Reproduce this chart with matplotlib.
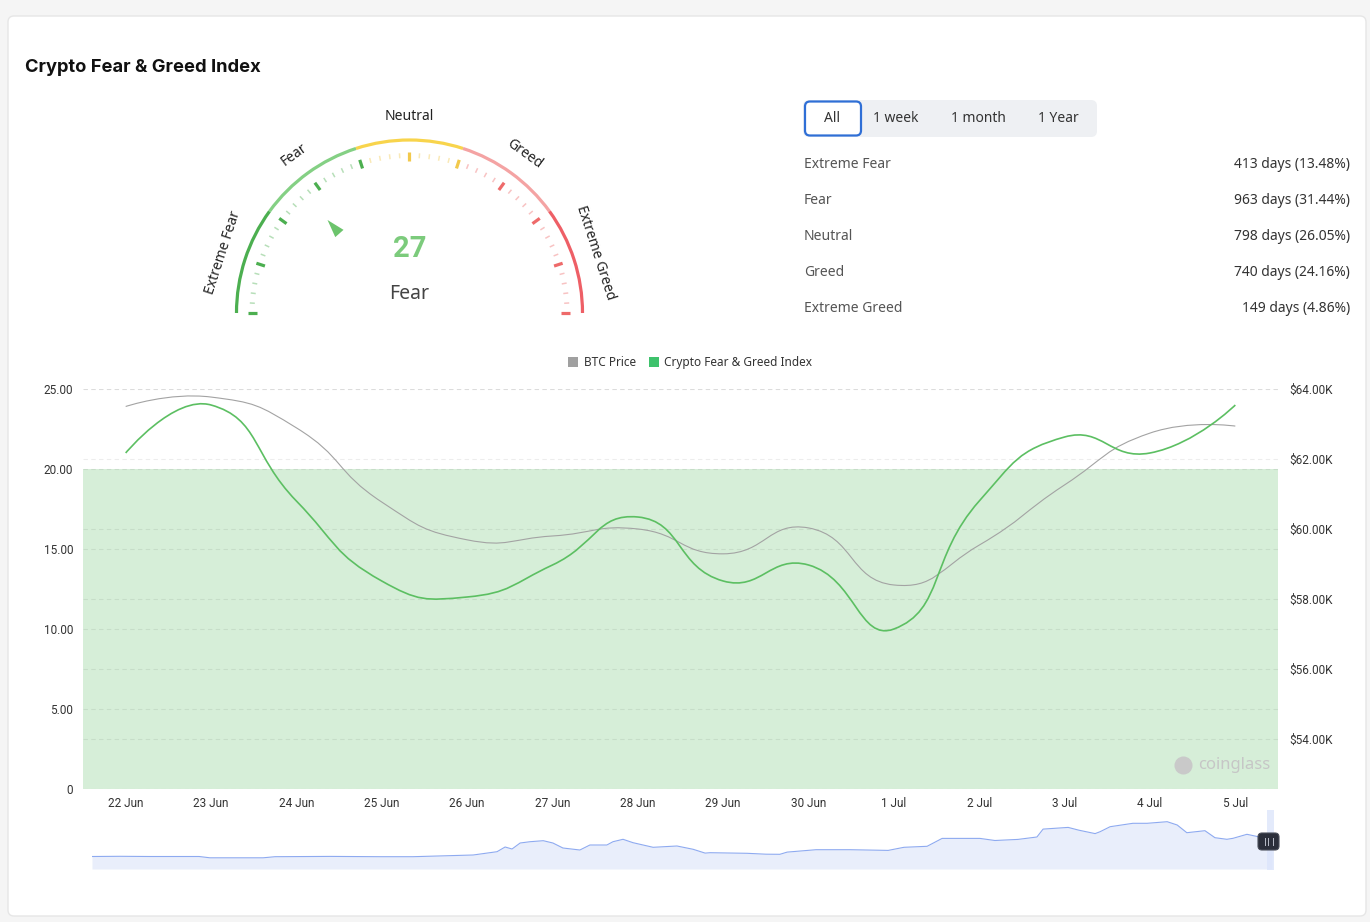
import numpy as np
import matplotlib
matplotlib.use('Agg')
import matplotlib.pyplot as plt
from matplotlib.path import Path
from matplotlib.patches import PathPatch, FancyBboxPatch, Rectangle, Polygon, Arc

W, H = 1370, 922

# ---- data ----
days = ['22 Jun', '23 Jun', '24 Jun', '25 Jun', '26 Jun', '27 Jun', '28 Jun',
        '29 Jun', '30 Jun', '1 Jul', '2 Jul', '3 Jul', '4 Jul', '5 Jul']
fgi = [21, 24, 18, 13, 12, 14, 17, 13, 14, 10, 18, 22, 21, 24]
btc = [63500, 63770, 62890, 60770, 59690, 59800, 60000, 59290, 60030, 58400,
       59540, 61260, 62740, 62940]
fear_band = (0, 20)

left_ticks = [0, 5, 10, 15, 20, 25]
right_ticks = [54000, 56000, 58000, 60000, 62000, 64000]

gauge_value = 27
gauge_state = 'Fear'
zone_names = ['Extreme Fear', 'Fear', 'Neutral', 'Greed', 'Extreme Greed']
zone_bounds = [0, 20, 40, 60, 80, 100]
zone_days = [413, 963, 798, 740, 149]
zone_pct = [13.48, 31.44, 26.05, 24.16, 4.86]
ranges = ['All', '1 week', '1 month', '1 Year']

# overview strip under the chart (whole history, 3063 days)
overview_day = [0, 73, 151, 278, 306, 444, 475, 618, 747, 833, 989, 1051, 1072,
                1090, 1111, 1137, 1171, 1196, 1222, 1266, 1292, 1336, 1352, 1378,
                1404, 1456, 1518, 1560, 1591, 1604, 1700, 1749, 1785, 1804, 1879,
                1967, 2066, 2107, 2167, 2206, 2245, 2304, 2343, 2403, 2452, 2468,
                2533, 2561, 2603, 2616, 2642, 2701, 2738, 2790, 2816, 2841, 2888,
                2914, 2945, 2961, 2997, 3026, 3062]
overview_val = [12.5, 12.7, 12.5, 12.5, 11.2, 11.2, 12.3, 12.6, 12.3, 12.3, 14.0,
                17.3, 22.0, 20.0, 26.0, 27.3, 28.3, 26.0, 21.0, 19.0, 24.0, 24.0,
                27.3, 29.7, 26.3, 21.7, 23.0, 19.7, 15.9, 16.3, 15.7, 14.8, 14.7,
                16.9, 19.3, 19.3, 18.6, 21.7, 22.7, 30.6, 30.6, 30.6, 28.5, 29.6,
                32.0, 39.9, 41.6, 38.8, 35.4, 37.3, 42.3, 45.7, 45.7, 47.3, 44.0,
                36.3, 38.3, 31.3, 29.7, 30.7, 34.7, 32.3, 33.0]

# ---- colours ----
zone_arc = ['#4caf50', '#84d084', '#f8d44c', '#f4a3a3', '#ee5f66']
zone_tick = ['#4caf50', '#4caf50', '#f2c94c', '#ee6a6a', '#ee6a6a']
GREEN_LINE = '#5cbf62'
GRAY_LINE = '#a3a3a3'
BAND = '#d6eed8'

UI = 'Noto Sans'
AXF = 'Roboto'


def box(x0, y0, x1, y1):
    return [x0 / W, 1 - y1 / H, (x1 - x0) / W, (y1 - y0) / H]


def smooth_path(xs, ys, sx, sy, smooth=0.5):
    # bezier smoothing like echarts' smooth line, done in pixel space
    P = np.column_stack([np.asarray(xs, float) * sx, np.asarray(ys, float) * sy])
    verts = [P[0]]
    codes = [Path.MOVETO]
    cp0 = P[0]
    n = len(P)
    for i in range(1, n):
        prev, cur = P[i - 1], P[i]
        if i + 1 < n:
            nxt = P[i + 1]
            v = nxt - prev
            l0 = np.hypot(*(cur - prev))
            l1 = np.hypot(*(nxt - cur))
            r = l1 / (l0 + l1)
            ncp = cur - v * smooth * (1 - r)
        else:
            v = np.zeros(2)
            r = 0.5
            ncp = cur
        verts += [cp0, ncp, cur]
        codes += [Path.CURVE4] * 3
        cp0 = cur + v * smooth * r
    verts = np.array(verts) / [sx, sy]
    return Path(verts, codes)


fig = plt.figure(figsize=(W / 100, H / 100), dpi=100, facecolor='#f5f5f5')

# background / card
bg = fig.add_axes([0, 0, 1, 1])
bg.set_xlim(0, W)
bg.set_ylim(H, 0)
bg.axis('off')
bg.set_zorder(0)
bg.add_patch(FancyBboxPatch((8, 16), 1358, 900, boxstyle='round,pad=0,rounding_size=6',
                            fc='white', ec='#e6e6e6', lw=1))
bg.text(25, 67, 'Crypto Fear & Greed Index', fontsize=13.2, fontweight='bold',
        family='Inter', color='#111', va='center', ha='left')

# range buttons
bg.add_patch(FancyBboxPatch((803, 100), 294, 37, boxstyle='round,pad=0,rounding_size=6',
                            fc='#eef0f3', ec='none'))
bg.add_patch(FancyBboxPatch((805, 101.5), 56, 34, boxstyle='round,pad=0,rounding_size=5',
                            fc='white', ec='#2f6fd6', lw=1.6))
for lbl, bx in zip(ranges, [832, 896, 978, 1058]):
    bg.text(bx, 119, lbl, fontsize=10, family=UI, color='#333', ha='center', va='center')

# stats
for i, name in enumerate(zone_names):
    yy = 164.5 + 36 * i
    bg.text(804, yy, name, fontsize=10, family=UI, color='#555', ha='left', va='center')
    bg.text(1350, yy, f'{zone_days[i]} days ({zone_pct[i]:.2f}%)', fontsize=10,
            family=UI, color='#333', ha='right', va='center')

# legend
bg.add_patch(Rectangle((568, 357), 10, 10, fc='#a0a0a0', ec='none'))
bg.text(584, 362, 'BTC Price', fontsize=8.5, family=UI, color='#333', va='center')
bg.add_patch(Rectangle((649, 357), 10, 10, fc='#3ec26c', ec='none'))
bg.text(664, 362, 'Crypto Fear & Greed Index', fontsize=8.5, family=UI, color='#333',
        va='center')

# ---- gauge ----
gax = fig.add_axes(box(189.5, 93, 629.5, 333))
gax.set_xlim(-220, 220)
gax.set_ylim(-20, 220)
gax.axis('off')
R = 173


def ang(v):
    return 180 - v * 1.8


for k in range(5):
    gax.add_patch(Arc((0, 0), 2 * R, 2 * R, theta1=ang(zone_bounds[k + 1]),
                      theta2=ang(zone_bounds[k]), color=zone_arc[k], lw=2.3))
    a = np.radians(ang((zone_bounds[k] + zone_bounds[k + 1]) / 2))
    gax.text(196 * np.cos(a), 196 * np.sin(a), zone_names[k], fontsize=10, family=UI,
             color='#222', ha='center', va='center', rotation=np.degrees(a) - 90,
             rotation_mode='anchor')

for v in range(0, 101, 2):
    major = v % 10 == 0
    z = min(max(int(np.ceil(v / 20)) - 1, 0), 4)
    a = np.radians(ang(v))
    r0, r1 = (152, 161) if major else (155, 160)
    gax.plot([r0 * np.cos(a), r1 * np.cos(a)], [r0 * np.sin(a), r1 * np.sin(a)],
             color=zone_tick[z], lw=2.3 if major else 1.1,
             alpha=1 if major else 0.4, solid_capstyle='butt')

a = np.radians(ang(gauge_value))
u = np.array([np.cos(a), np.sin(a)])
pn = np.array([-u[1], u[0]])
tri = [u * 124, u * 106 + pn * 5.5, u * 106 - pn * 5.5]
gax.add_patch(Polygon(tri, closed=True, fc='#6cc46c', ec='none'))
gax.text(0, 64, str(gauge_value), fontsize=21, fontweight='bold', family='Roboto',
         color='#7ccb7c', ha='center', va='center')
gax.text(0, 19, gauge_state, fontsize=14, family=UI, color='#444', ha='center',
         va='center')

# ---- main chart ----
x = np.arange(len(days))
ax = fig.add_axes(box(83, 389, 1278, 789))
ax.set_zorder(2)
ax.set_facecolor('none')
ax.set_xlim(-0.5, len(days) - 0.5)
ax.set_ylim(0, 25)
ax.axhspan(fear_band[0], fear_band[1], color=BAND, zorder=0, lw=0)
ax.set_axisbelow(True)
ax.grid(axis='y', color='#000000', alpha=0.07, ls=(0, (4, 3)), lw=0.8)
ax.set_yticks(left_ticks)
ax.set_yticklabels(['0' if t == 0 else f'{t:.2f}' for t in left_ticks])
ax.set_xticks(x)
ax.set_xticklabels(days)
ax.tick_params(length=0, labelsize=8.5, labelcolor='#333', pad=6)
ax.tick_params(axis='y', pad=7)
for s in ax.spines.values():
    s.set_visible(False)

ax2 = ax.twinx()
ax2.set_ylim(52570, 64000)
ax2.set_axisbelow(True)
ax2.grid(axis='y', color='#000000', alpha=0.07, ls=(0, (4, 3)), lw=0.8)
ax2.set_yticks(right_ticks)
ax2.set_yticklabels([f'${t / 1000:.2f}K' for t in right_ticks])
ax2.tick_params(length=0, labelsize=8.5, labelcolor='#333', pad=8)
for s in ax2.spines.values():
    s.set_visible(False)
for lab in ax.get_xticklabels() + ax.get_yticklabels() + ax2.get_yticklabels():
    lab.set_family(AXF)

xpx = 1195 / len(days)
ax2.add_patch(PathPatch(smooth_path(x, btc, xpx, 400 / 11430), fill=False,
                        ec=GRAY_LINE, lw=0.8, transform=ax2.transData, zorder=3))
ax2.add_patch(PathPatch(smooth_path(x, fgi, xpx, 16), fill=False, ec=GREEN_LINE,
                        lw=1.2, transform=ax.transData, zorder=4))

# ---- overview strip ----
ov = fig.add_axes(box(92, 815, 1272, 869))
ov.set_zorder(2)
ov.set_facecolor('none')
ov.set_xlim(0, overview_day[-1])
ov.set_ylim(0, 54)
ov.axis('off')
ov.fill_between(overview_day, overview_val, 0, color='#e9eefb', lw=0)
ov.plot(overview_day, overview_val, color='#8eaaf0', lw=0.8)
ov.axvspan(overview_day[-1] - len(days), overview_day[-1] + 4, ymin=-0.02, ymax=1.09,
           color='#dce5fb', alpha=0.8, clip_on=False, lw=0)

# ---- top overlay: watermark, handle ----
top = fig.add_axes([0, 0, 1, 1])
top.set_xlim(0, W)
top.set_ylim(H, 0)
top.axis('off')
top.set_zorder(5)
top.set_facecolor('none')
top.plot([1183], [765], marker='o', ms=13, color='#c9c9c9', mec='none')
top.text(1198, 765, 'coinglass', fontsize=12, fontweight='bold', family=UI,
         color='#c6c6c6', va='center', ha='left')
top.add_patch(FancyBboxPatch((1258, 833), 21, 17, boxstyle='round,pad=0,rounding_size=4',
                             fc='#2b2f3b', ec='#4a4e5a', lw=0.8))
for hx in [1265, 1268, 1273]:
    top.plot([hx, hx], [838, 845], color='#b8bcc8', lw=0.7)

fig.savefig('out.png', dpi=100, facecolor=fig.get_facecolor())
